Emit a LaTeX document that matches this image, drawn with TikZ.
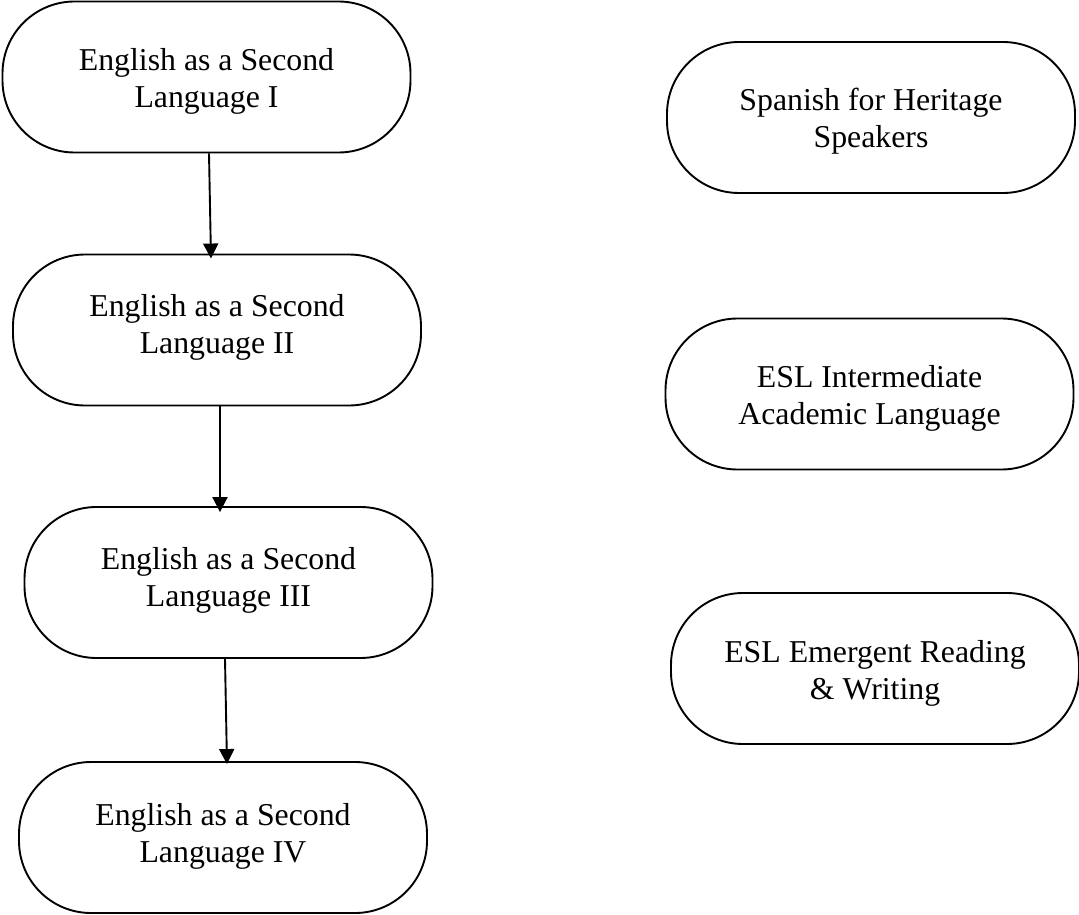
\documentclass[tikz,border=0pt]{standalone}
\usepackage{fontspec}
\setmainfont{Liberation Serif}
\usetikzlibrary{arrows.meta,calc}
\begin{document}
\begin{tikzpicture}[x=1pt,y=-1pt,
  course/.style={draw=black,line width=1.9pt,rounded corners=72pt,
    minimum width=408pt,minimum height=151pt,inner sep=0pt},
  title/.style={inner sep=0pt,align=center,
    font=\fontsize{31.8}{37}\selectfont},
  flow/.style={draw=black,line width=1.9pt,
    -{Triangle[width=15pt,length=15pt]}}]
\useasboundingbox (0,0) rectangle (1079,915);
% English sequence (left column)
\node[course] (esl1) at (206.5,77)    {};
\node[course] (esl2) at (217,330)     {};
\node[course] (esl3) at (228.5,582.5) {};
\node[course] (esl4) at (223,837.5)   {};
% Stand-alone courses (right column)
\node[course] (span)  at (871,117.5)  {};
\node[course] (inter) at (869.5,394)  {};
\node[course] (emerg) at (875,668.5)  {};
% Course titles
\node[title] (esl1t)  at ($(esl1.center)+(0,4.1)$)  {English as a Second\\Language I};
\node[title] (esl2t)  at ($(esl2.center)+(0,-2.9)$) {English as a Second\\Language II};
\node[title] (esl3t)  at ($(esl3.center)+(0,-2.4)$) {English as a Second\\Language III};
\node[title] (esl4t)  at ($(esl4.center)+(0,-1.4)$) {English as a Second\\Language IV};
\node[title] (spant)  at ($(span.center)+(0,3.6)$)  {Spanish for Heritage\\Speakers};
\node[title] (intert) at ($(inter.center)+(0,4.6)$) {ESL Intermediate\\Academic Language};
\node[title] (emergt) at ($(emerg.center)+(0,5.1)$) {ESL Emergent Reading\\\& Writing};
% Prerequisite arrows
\draw[flow] ($(esl1.south)+(2.5,0)$) -- ($(esl2.north)+(-6,5)$);
\draw[flow] ($(esl2.south)+(3,0)$) -- ($(esl3.north)+(-8.5,6)$);
\draw[flow] ($(esl3.south)+(-3.5,0)$) -- ($(esl4.north)+(4,3)$);
\end{tikzpicture}
\end{document}
